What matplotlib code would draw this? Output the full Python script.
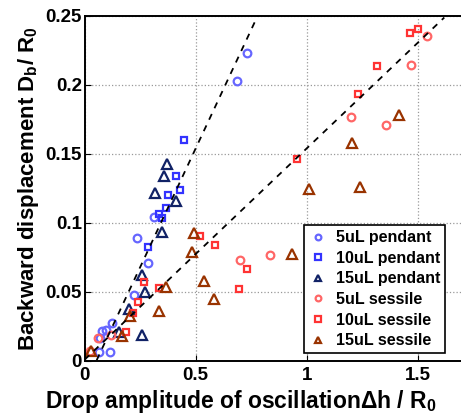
import matplotlib
matplotlib.use("Agg")
import matplotlib.pyplot as plt
import numpy as np

plt.rcParams["font.family"] = ["Liberation Sans", "DejaVu Sans"]
plt.rcParams["font.weight"] = "bold"
plt.rcParams["axes.labelweight"] = "bold"
plt.rcParams["mathtext.fontset"] = "custom"
plt.rcParams["mathtext.rm"] = "Liberation Sans:bold"
plt.rcParams["mathtext.it"] = "Liberation Sans:bold"
plt.rcParams["mathtext.bf"] = "Liberation Sans:bold"

# 5uL pendant
p5_x = [0.732, 0.686, 0.312, 0.236, 0.285, 0.224, 0.122, 0.096, 0.078, 0.069, 0.064, 0.112]
p5_y = [0.2232, 0.2027, 0.1040, 0.0889, 0.0710, 0.0478, 0.0275, 0.0228, 0.0214, 0.0167, 0.0065, 0.0065]
# 10uL pendant
p10_x = [0.449, 0.413, 0.429, 0.375, 0.366, 0.335, 0.348, 0.286]
p10_y = [0.160, 0.134, 0.124, 0.120, 0.111, 0.1065, 0.1036, 0.0824]
# 15uL pendant
p15_x = [0.369, 0.359, 0.318, 0.410, 0.348, 0.257, 0.272, 0.201, 0.156, 0.258]
p15_y = [0.1428, 0.134, 0.122, 0.116, 0.0937, 0.0623, 0.0502, 0.0375, 0.0208, 0.0191]
# 5uL sessile
s5_x = [1.543, 1.468, 1.198, 1.359, 0.700, 0.835, 0.117, 0.062, 0.022]
s5_y = [0.2355, 0.2147, 0.1766, 0.1708, 0.0732, 0.0768, 0.0185, 0.0167, 0.0076]
# 10uL sessile
s10_x = [1.500, 1.467, 1.318, 1.230, 0.955, 0.519, 0.588, 0.732, 0.694, 0.335, 0.268, 0.238, 0.218, 0.186]
s10_y = [0.2403, 0.2374, 0.2137, 0.1932, 0.1464, 0.0906, 0.0838, 0.0664, 0.0522, 0.0529, 0.0572,
         0.0424, 0.0346, 0.0208]
# 15uL sessile
s15_x = [1.417, 1.204, 1.012, 1.240, 0.494, 0.482, 0.537, 0.584, 0.932, 0.366, 0.333, 0.204, 0.169, 0.028]
s15_y = [0.1782, 0.1577, 0.1246, 0.1258, 0.0930, 0.0788, 0.0580, 0.0446, 0.0772, 0.0539, 0.0359,
         0.0323, 0.0183, 0.0072]

# fitted lines (slope, intercept, x range)
fit_pendant = (0.344, -0.018, 0.03, 0.78)
fit_sessile = (0.153, 0.001, 0.0, 1.62)

series = [
    (p5_x, p5_y, "o", "#6666ff", 5.5, "5uL pendant"),
    (p10_x, p10_y, "s", "#3333ff", 5.0, "10uL pendant"),
    (p15_x, p15_y, "^", "#112266", 6.5, "15uL pendant"),
    (s5_x, s5_y, "o", "#ff6666", 5.5, "5uL sessile"),
    (s10_x, s10_y, "s", "#ff3333", 5.0, "10uL sessile"),
    (s15_x, s15_y, "^", "#993300", 6.5, "15uL sessile"),
]

fig = plt.figure(figsize=(4.61, 4.20), dpi=100)
ax = fig.add_axes([0.1837, 0.1405, 0.8185, 0.8215])

for x, y, m, c, ms, lab in series:
    ax.plot(x, y, linestyle="none", marker=m, markersize=ms, markerfacecolor="none",
            markeredgecolor=c, markeredgewidth=1.6, label=lab)

for k, b, x0, x1 in (fit_pendant, fit_sessile):
    xs = np.linspace(x0, x1, 50)
    ax.plot(xs, k * xs + b, "k--", linewidth=1.3, dashes=(3.5, 3.5))

ax.set_xlim(0, 1.7)
ax.set_ylim(0, 0.25)
ax.set_xticks([0, 0.5, 1, 1.5])
ax.set_xticklabels(["0", "0.5", "1", "1.5"])
ax.set_yticks([0, 0.05, 0.1, 0.15, 0.2, 0.25])
ax.set_yticklabels(["0", "0.05", "0.1", "0.15", "0.2", "0.25"])
ax.tick_params(direction="in", labelsize=13.5, length=4)
ax.tick_params(axis="x", pad=4)
ax.tick_params(axis="y", pad=2)
ax.grid(True, linestyle=":", color="#999999", linewidth=0.9)
for s in ax.spines.values():
    s.set_linewidth(1.4)

ax.set_xlabel(r"Drop amplitude of oscillation$\Delta$h / R$_0$", fontsize=16.5, fontweight="bold", labelpad=0)
ax.set_ylabel(r"Backward displacement D$_\mathrm{b}$/ R$_0$", fontsize=16, fontweight="bold", labelpad=3)
ax.xaxis.set_label_coords(0.415, -0.078, transform=ax.transAxes)
ax.xaxis.label.set_verticalalignment("top")

leg = ax.legend(loc="lower left", bbox_to_anchor=(0.56, 0.0), fontsize=11.5, markerscale=0.75,
                handlelength=1.2, handletextpad=0.5, borderpad=0.3, labelspacing=0.35,
                fancybox=False, framealpha=1, edgecolor="black")
leg.get_frame().set_linewidth(1.2)

fig.savefig("out.png", dpi=100)
